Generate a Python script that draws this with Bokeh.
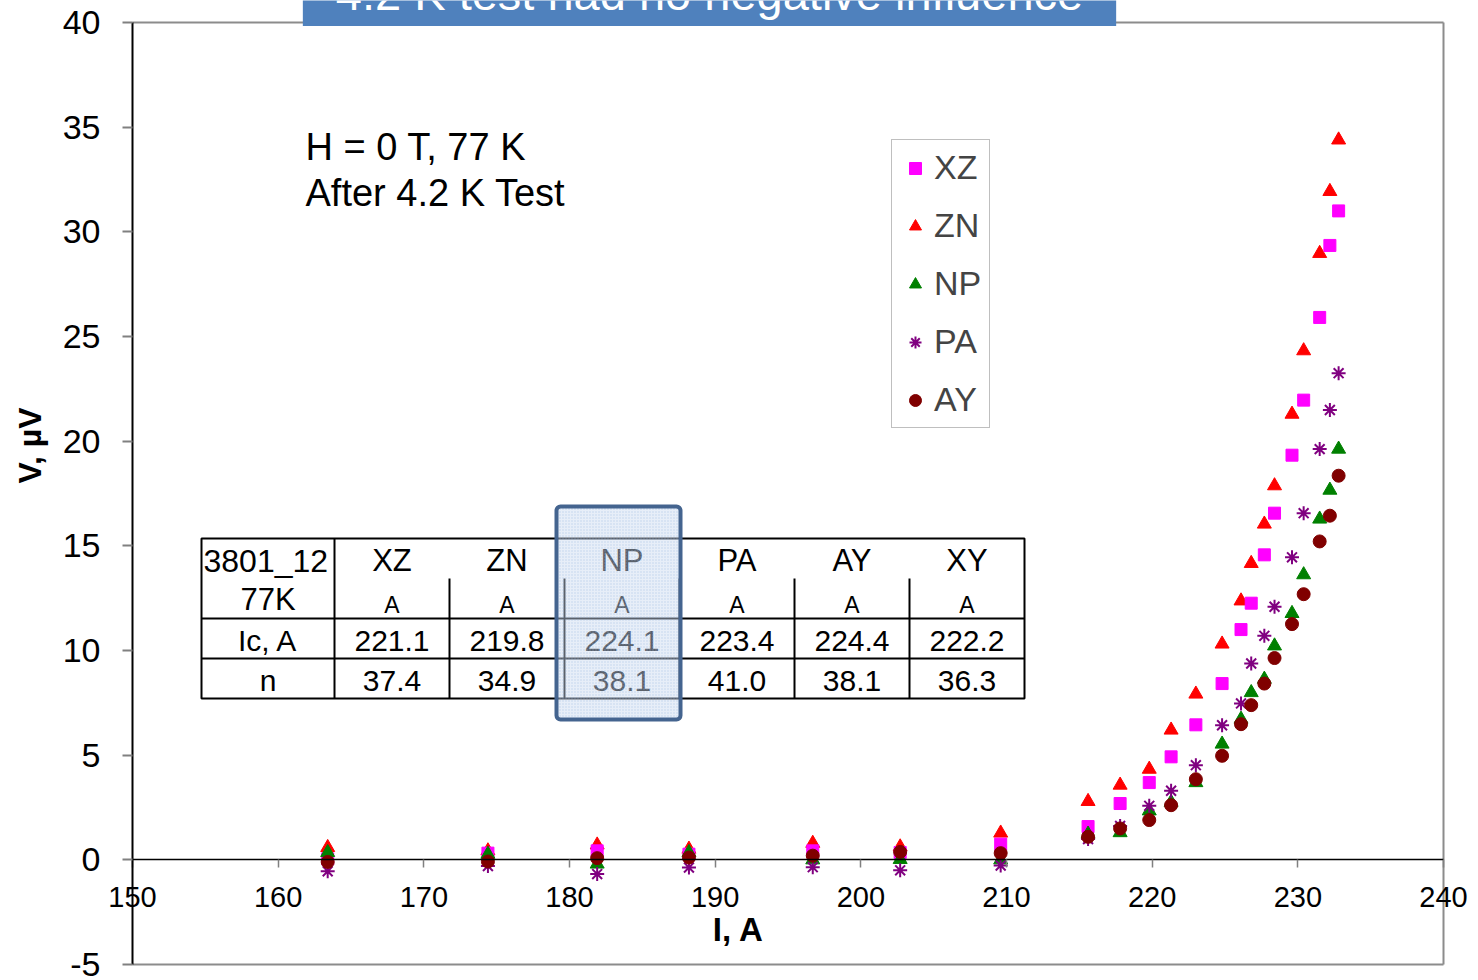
import math

from bokeh.core.properties import value
from bokeh.embed import file_html
from bokeh.models import (BoxAnnotation, ColumnDataSource, FixedTicker, Label,
                          Legend, LegendItem, Range1d)
from bokeh.plotting import figure
from bokeh.resources import INLINE

# ---- measured current (A) and voltage (uV) for each sample ----
current = [163.4, 174.4, 181.9, 188.2, 196.7, 202.7, 209.6,
           215.6, 217.8, 219.8, 221.3, 223.0, 224.8, 226.1, 226.8,
           227.7, 228.4, 229.6, 230.4, 231.5, 232.2, 232.8]

v_xz = [0.05, 0.32, 0.43, 0.27, 0.43, 0.35, 0.75,
        1.59, 2.69, 3.69, 4.92, 6.45, 8.42, 11.00, 12.26,
        14.57, 16.56, 19.33, 21.96, 25.91, 29.35, 31.00]
v_zn = [0.59, 0.43, 0.71, 0.51, 0.79, 0.62, 1.28,
        2.79, 3.57, 4.33, 6.20, 7.92, 10.31, 12.37, 14.16,
        16.04, 17.87, 21.29, 24.32, 28.97, 31.93, 34.39]
v_np = [0.35, 0.27, -0.20, 0.35, 0.00, 0.02, 0.00,
        1.23, 1.30, 2.34, 2.75, 3.69, 5.53, 6.72, 7.99,
        8.63, 10.22, 11.77, 13.62, 16.28, 17.66, 19.62]
v_pa = [-0.55, -0.30, -0.68, -0.37, -0.35, -0.50, -0.27,
        0.99, 1.62, 2.58, 3.30, 4.52, 6.43, 7.47, 9.38,
        10.70, 12.09, 14.45, 16.56, 19.62, 21.49, 23.25]
v_ay = [-0.10, -0.08, 0.08, 0.11, 0.20, 0.38, 0.32,
        1.10, 1.50, 1.90, 2.61, 3.85, 4.97, 6.48, 7.39,
        8.42, 9.64, 11.26, 12.69, 15.21, 16.44, 18.35]

# ---- summary table ----
table_corner = ["3801_12", "77K"]
table_cols = ["XZ", "ZN", "NP", "PA", "AY", "XY"]
table_units = ["A", "A", "A", "A", "A", "A"]
row_names = ["Ic, A", "n"]
ic_values = ["221.1", "219.8", "224.1", "223.4", "224.4", "222.2"]
n_values = ["37.4", "34.9", "38.1", "41.0", "38.1", "36.3"]

x_ticks = [150, 160, 170, 180, 190, 200, 210, 220, 230, 240]
y_ticks = [-5, 0, 5, 10, 15, 20, 25, 30, 35, 40]

FONT = "Liberation Sans"
W, H = 1478, 980
# plotting box (axes box) edges on the canvas, px
BL, BR, BT, BB = 132, 1443, 22, 964
X0, X1, Y0, Y1 = 150, 240, -5, 40
KX = (BR - BL) / (X1 - X0)      # px per A
KY = (BB - BT) / (Y1 - Y0)      # px per uV


def dx(px):
    """canvas x pixel -> current value"""
    return X0 + (px - BL) / KX


def dy(py):
    """canvas y pixel -> voltage value"""
    return Y1 - (py - BT) / KY


def screen_label(px, py, text, **kw):
    """text placed by canvas pixel position"""
    opts = dict(text_font=FONT, text_color="black", text_baseline="middle")
    opts.update(kw)
    return Label(x=px, y=H - py, x_units="screen", y_units="screen", text=text, **opts)


# the frame fills the whole canvas; axes sit at fixed locations inside it
p = figure(width=W, height=H,
           x_range=Range1d(dx(0), dx(W)), y_range=Range1d(dy(H), dy(0)),
           output_backend="svg", toolbar_location=None, min_border=0)
p.background_fill_color = "white"
p.border_fill_color = "white"
p.outline_line_color = None
p.grid.visible = False

xa = p.xaxis[0]
xa.fixed_location = 0
xa.bounds = (X0, X1)
xa.ticker = FixedTicker(ticks=x_ticks)
xa.axis_line_color = "black"
xa.axis_line_width = 1.5
xa.major_tick_line_color = "#808080"
xa.major_tick_line_width = 1.5
xa.major_tick_out = 8
xa.major_tick_in = 0
xa.minor_tick_line_color = None
xa.major_label_text_font = FONT
xa.major_label_text_font_size = "29px"
xa.major_label_text_color = "black"
xa.major_label_standoff = 19

ya = p.yaxis[0]
ya.fixed_location = X0
ya.bounds = (Y0, Y1)
ya.ticker = FixedTicker(ticks=y_ticks)
ya.axis_line_color = "black"
ya.axis_line_width = 2
ya.major_tick_line_color = "#808080"
ya.major_tick_line_width = 2
ya.major_tick_out = 10
ya.major_tick_in = 0
ya.minor_tick_line_color = None
ya.major_label_text_font = FONT
ya.major_label_text_font_size = "34px"
ya.major_label_text_color = "black"
ya.major_label_standoff = 22
ya.major_label_overrides = {-5: "-5"}

# grey border of the axes box (top, right, bottom)
p.segment(x0=[X0, X1, X0], y0=[Y1, Y0, Y0], x1=[X1, X1, X1], y1=[Y1, Y1, Y0],
          line_color="#8c8c8c", line_width=2)

# ---- data series ----
src = ColumnDataSource(dict(current=current, xz=v_xz, zn=v_zn, np_=v_np, pa=v_pa, ay=v_ay))
r_zn = p.scatter("current", "zn", source=src, marker="triangle", size=14,
                 fill_color="#ff0000", line_color="#ff0000")
r_xz = p.scatter("current", "xz", source=src, marker="square", size=12,
                 fill_color="#ff00ff", line_color="#ff00ff")
r_np = p.scatter("current", "np_", source=src, marker="triangle", size=14,
                 fill_color="#008000", line_color="#008000")
r_pa = p.scatter("current", "pa", source=src, marker="asterisk", size=14,
                 line_color="#800080", line_width=2)
r_ay = p.scatter("current", "ay", source=src, marker="circle", size=13,
                 fill_color="#800000", line_color="#800000")

legend = Legend(items=[LegendItem(label="XZ", renderers=[r_xz]),
                       LegendItem(label="ZN", renderers=[r_zn]),
                       LegendItem(label="NP", renderers=[r_np]),
                       LegendItem(label="PA", renderers=[r_pa]),
                       LegendItem(label="AY", renderers=[r_ay])],
                location=(891, H - 428), orientation="vertical",
                padding=8, spacing=19, margin=0,
                glyph_width=30, glyph_height=30, label_height=38, label_standoff=4,
                label_text_font=FONT, label_text_font_size="34px",
                border_line_color="#808080", border_line_width=1,
                background_fill_color="white", background_fill_alpha=1)
p.add_layout(legend)

# ---- summary table drawn inside the plot ----
col_edges = [201, 334, 449, 564, 679, 794, 909, 1024]
row_edges = [538, 618, 658, 698]
head_split = 578

p.quad(left=[dx(col_edges[0])], right=[dx(col_edges[-1])],
       top=[dy(row_edges[0])], bottom=[dy(row_edges[-1])],
       fill_color=None, line_color="black", line_width=2)
p.segment(x0=[dx(col_edges[0])] * 2, x1=[dx(col_edges[-1])] * 2,
          y0=[dy(r) for r in row_edges[1:3]], y1=[dy(r) for r in row_edges[1:3]],
          line_color="black", line_width=2)
p.segment(x0=[dx(col_edges[1])], x1=[dx(col_edges[1])],
          y0=[dy(row_edges[0])], y1=[dy(row_edges[-1])],
          line_color="black", line_width=2)
inner = col_edges[2:-1]
p.segment(x0=[dx(c) for c in inner], x1=[dx(c) for c in inner],
          y0=[dy(head_split)] * len(inner), y1=[dy(row_edges[-1])] * len(inner),
          line_color="black", line_width=2)

centers = [(col_edges[i] + col_edges[i + 1]) / 2 for i in range(1, len(col_edges) - 1)]
first_c = (col_edges[0] + col_edges[1]) / 2
text_kw = dict(text_font=value(FONT), text_color="black", text_baseline="middle")

p.text(x=[dx(203)], y=[dy(560)], text=[table_corner[0]], text_align="left",
       text_font_size="32px", **text_kw)
p.text(x=[dx(first_c)], y=[dy(599)], text=[table_corner[1]], text_align="center",
       text_font_size="31px", **text_kw)
p.text(x=[dx(c) for c in centers], y=[dy(560)] * 6, text=table_cols, text_align="center",
       text_font_size="31px", **text_kw)
p.text(x=[dx(c) for c in centers], y=[dy(604)] * 6, text=table_units, text_align="center",
       text_font_size="23px", **text_kw)
p.text(x=[dx(first_c)] * 2, y=[dy(640), dy(680)], text=row_names, text_align="center",
       text_font_size="30px", **text_kw)
p.text(x=[dx(c) for c in centers], y=[dy(640)] * 6, text=ic_values, text_align="center",
       text_font_size="30px", **text_kw)
p.text(x=[dx(c) for c in centers], y=[dy(680)] * 6, text=n_values, text_align="center",
       text_font_size="30px", **text_kw)

# highlighted NP column
p.add_layout(BoxAnnotation(left=dx(556), right=dx(680), top=dy(506), bottom=dy(719),
                           fill_color="#c9daf0", fill_alpha=0.45,
                           hatch_pattern="dot", hatch_color="#8fb0da", hatch_alpha=0.45,
                           hatch_scale=3, hatch_weight=1,
                           line_color="#44648f", line_alpha=1, line_width=4,
                           border_radius=4))

# ---- texts ----
p.add_layout(screen_label(305, 146, "H = 0 T, 77 K", text_font_size="38px"))
p.add_layout(screen_label(305, 192, "After 4.2 K Test", text_font_size="38px"))
p.add_layout(screen_label(738, 929, "I, A", text_font_size="33px",
                          text_font_style="bold", text_align="center"))
p.add_layout(screen_label(29, 445, "V, \u00b5V", text_font_size="32px",
                          text_font_style="bold", text_align="center", angle=math.pi / 2))

# banner heading, running off the top of the page
p.add_layout(screen_label(709, -7, "4.2 K test had no negative influence",
                          text_font_size="47px", text_color="white", text_align="center",
                          background_fill_color="#4f81bd", background_fill_alpha=1,
                          padding=(33, 6)))

open("out.html", "w").write(file_html(p, INLINE))
